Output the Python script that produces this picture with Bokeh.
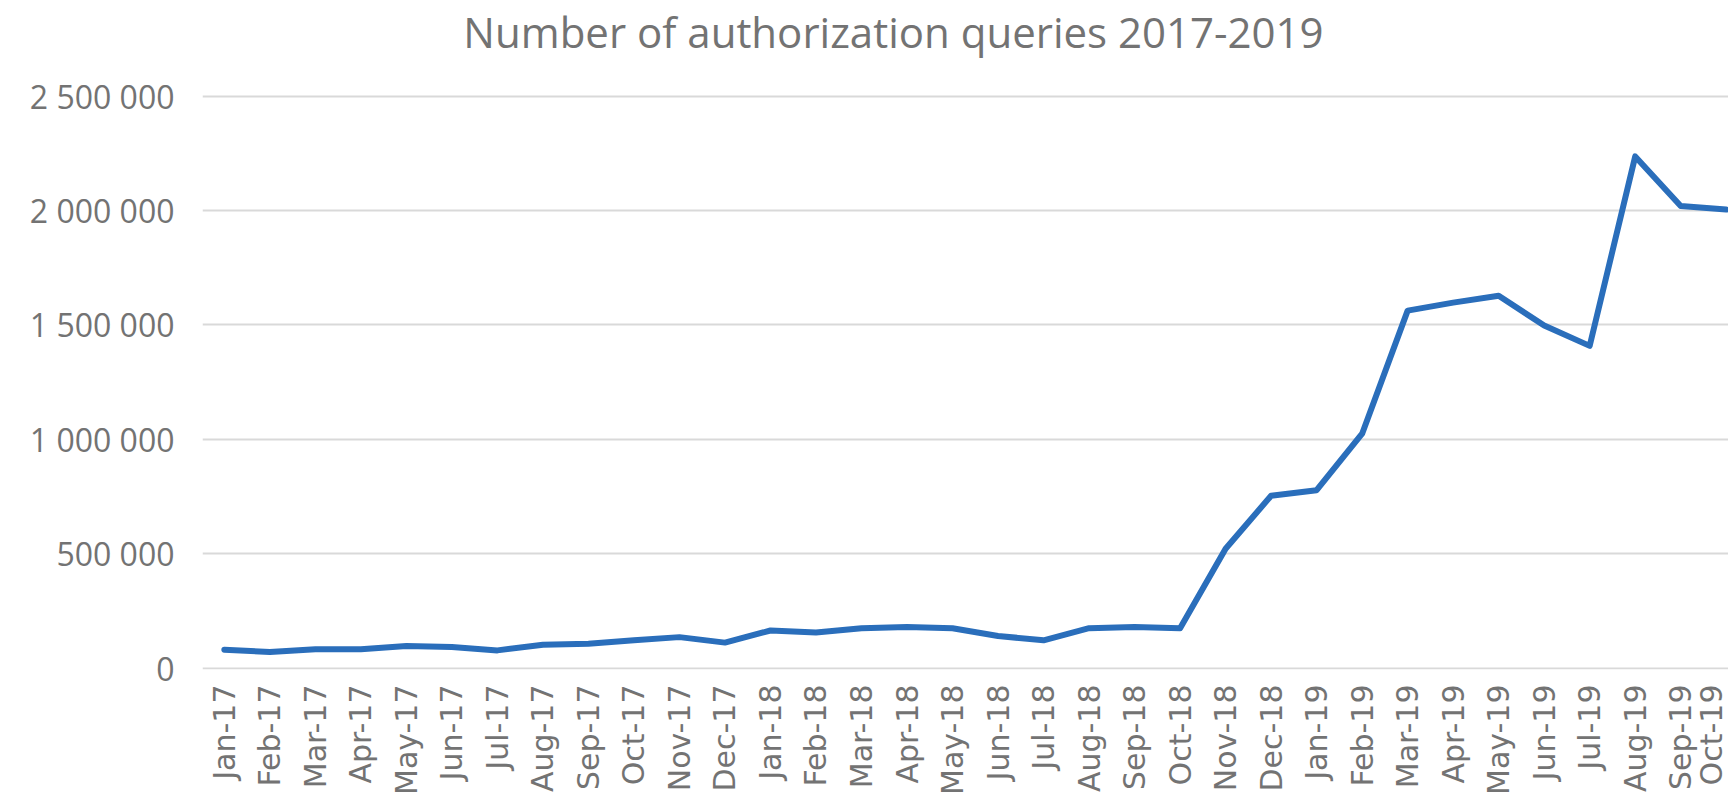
import math
from bokeh.plotting import figure
from bokeh.models import Range1d, FixedTicker, Label
from bokeh.embed import file_html
from bokeh.resources import INLINE

months = ["Jan-17", "Feb-17", "Mar-17", "Apr-17", "May-17", "Jun-17", "Jul-17", "Aug-17",
          "Sep-17", "Oct-17", "Nov-17", "Dec-17", "Jan-18", "Feb-18", "Mar-18", "Apr-18",
          "May-18", "Jun-18", "Jul-18", "Aug-18", "Sep-18", "Oct-18", "Nov-18", "Dec-18",
          "Jan-19", "Feb-19", "Mar-19", "Apr-19", "May-19", "Jun-19", "Jul-19", "Aug-19",
          "Sep-19", "Oct-19"]
queries = [80000, 70000, 82000, 82000, 96000, 92000, 77000, 102000,
           106000, 121000, 135000, 111000, 164000, 155000, 174000, 179000,
           174000, 140000, 121000, 174000, 179000, 174000, 521000, 753000,
           777000, 1024000, 1562000, 1597000, 1627000, 1497000, 1408000, 2236000,
           2019000, 2004000]
y_ticks = [0, 500000, 1000000, 1500000, 2000000, 2500000]
y_tick_labels = ["0", "500 000", "1 000 000", "1 500 000", "2 000 000", "2 500 000"]
title_text = "Number of authorization queries 2017-2019"

TEXT = "#737373"
idx = list(range(len(months)))

# frame spans the full height above the axis so the title can sit inside it
p = figure(width=1728, height=797, output_backend="svg", toolbar_location=None,
           title_location=None,
           x_range=Range1d(-0.48, 33.05), y_range=Range1d(-6500, 2917500),
           min_border_left=202, min_border_right=0, min_border_top=0, min_border_bottom=127)

title = Label(x=691, y=638, x_units="screen", y_units="screen", text=title_text,
              text_font="Open Sans", text_font_size="42px", text_color=TEXT,
              text_align="center", text_baseline="middle")
p.add_layout(title)

p.line(idx, queries, line_color="#2a6ebb", line_width=6, line_cap="round", line_join="round")

p.outline_line_color = None
p.xgrid.grid_line_color = None
p.ygrid.grid_line_color = "#d9d9d9"
p.ygrid.grid_line_width = 2

xa = p.xaxis[0]
xa.ticker = FixedTicker(ticks=idx)
xa.major_label_overrides = {i: m for i, m in zip(idx, months)}
xa.major_label_orientation = math.pi / 2
xa.major_label_text_font = "DejaVu Sans"
xa.major_label_text_font_size = "30px"
xa.major_label_text_color = TEXT
xa.axis_line_color = None
xa.major_tick_line_color = None
xa.minor_tick_line_color = None
xa.major_tick_out = 0
xa.major_label_standoff = 15

ya = p.yaxis[0]
ya.ticker = FixedTicker(ticks=y_ticks)
ya.major_label_overrides = {t: l for t, l in zip(y_ticks, y_tick_labels)}
ya.major_label_text_font = "Open Sans"
ya.major_label_text_font_size = "32px"
ya.major_label_text_color = TEXT
ya.axis_line_color = None
ya.major_tick_line_color = None
ya.minor_tick_line_color = None
ya.major_tick_out = 0
ya.major_label_standoff = 28

open("out.html", "w").write(file_html(p, INLINE))
